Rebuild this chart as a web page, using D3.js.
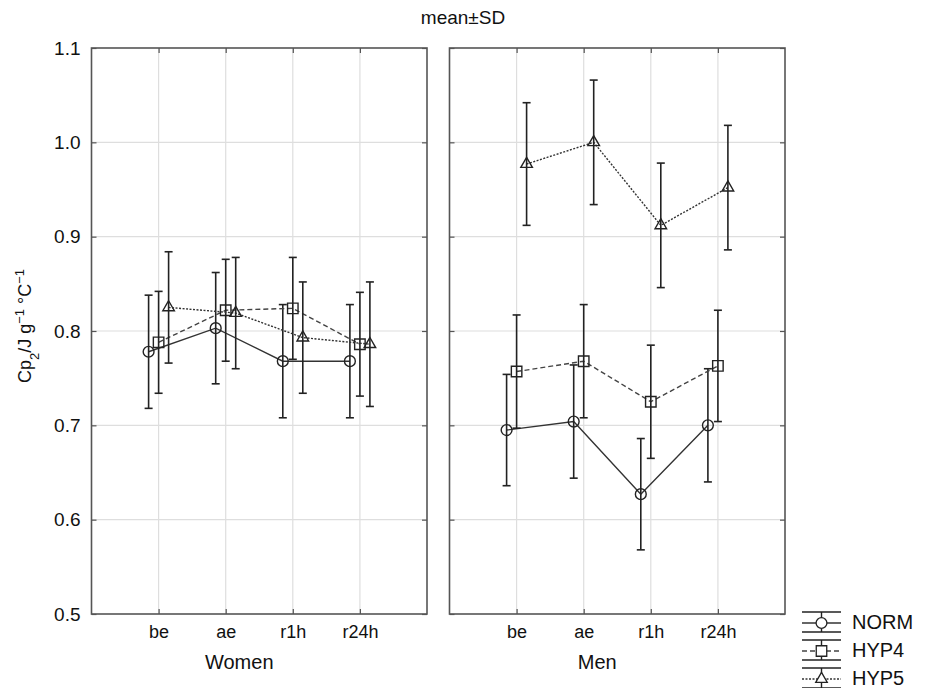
<!DOCTYPE html>
<html>
<head>
<meta charset="utf-8">
<script src="https://cdn.jsdelivr.net/npm/d3@7"></script>
<style>
  body { margin: 0; background: #fff; }
  svg { display: block; }
  .label { font-family: "Liberation Sans", Arial, sans-serif; fill: #111; }
</style>
</head>
<body>
<div id="chart"></div>
<script>
const categories = ['be', 'ae', 'r1h', 'r24h']
const groups = ['Women', 'Men']
const seriesNames = ['NORM', 'HYP4', 'HYP5']
const yTicks = [0.5, 0.6, 0.7, 0.8, 0.9, 1.0, 1.1]

// mean and SD per time point
const normWomenMean = [0.778, 0.803, 0.768, 0.768]
const normWomenSD = [0.060, 0.059, 0.060, 0.060]
const hyp4WomenMean = [0.788, 0.822, 0.824, 0.786]
const hyp4WomenSD = [0.054, 0.054, 0.054, 0.055]
const hyp5WomenMean = [0.825, 0.819, 0.793, 0.786]
const hyp5WomenSD = [0.059, 0.059, 0.059, 0.066]

const normMenMean = [0.695, 0.704, 0.627, 0.700]
const normMenSD = [0.059, 0.060, 0.059, 0.060]
const hyp4MenMean = [0.757, 0.768, 0.725, 0.763]
const hyp4MenSD = [0.060, 0.060, 0.060, 0.059]
const hyp5MenMean = [0.977, 1.000, 0.912, 0.952]
const hyp5MenSD = [0.065, 0.066, 0.066, 0.066]

const tables = {
  Women: [[normWomenMean, normWomenSD], [hyp4WomenMean, hyp4WomenSD], [hyp5WomenMean, hyp5WomenSD]],
  Men: [[normMenMean, normMenSD], [hyp4MenMean, hyp4MenSD], [hyp5MenMean, hyp5MenSD]]
}

const width = 930
const height = 688
const plotTop = 48
const plotBottom = 614
const panelWidth = 335.5
const panelLefts = [91.5, 449.5]

const styles = {
  NORM: { dash: null, stroke: '#333', symbol: d3.symbolCircle, size: 92, offset: -10 },
  HYP4: { dash: '5,3', stroke: '#444', symbol: d3.symbolSquare, size: 110, offset: 0 },
  HYP5: { dash: '2,1.5', stroke: '#333', symbol: d3.symbolTriangle, size: 58, offset: 10 }
}

const svg = d3.select('#chart').append('svg')
  .attr('width', width)
  .attr('height', height)

const y = d3.scaleLinear().domain([0.5, 1.1]).range([plotBottom, plotTop])

svg.append('text')
  .attr('class', 'label')
  .attr('x', 463).attr('y', 24)
  .attr('text-anchor', 'middle')
  .style('font-size', '19px')
  .text('mean±SD')

// y axis title
const yTitle = svg.append('text')
  .attr('class', 'label')
  .attr('transform', 'translate(31,326) rotate(-90)')
  .attr('text-anchor', 'middle')
  .style('font-size', '18px')
yTitle.append('tspan').text('Cp')
yTitle.append('tspan').attr('baseline-shift', 'sub').style('font-size', '13px').text('2')
yTitle.append('tspan').text('/J g')
yTitle.append('tspan').attr('baseline-shift', 'super').style('font-size', '13px').text('−1')
yTitle.append('tspan').text(' °C')
yTitle.append('tspan').attr('baseline-shift', 'super').style('font-size', '13px').text('−1')

groups.forEach((group, gi) => {
  const left = panelLefts[gi]
  const right = left + panelWidth
  const x = d3.scalePoint().domain(categories).range([left, right]).padding(1)
  const frame = svg.append('g')

  // grid
  frame.append('g').selectAll('line')
    .data(yTicks.slice(1, -1))
    .join('line')
    .attr('x1', left).attr('x2', right)
    .attr('y1', d => y(d)).attr('y2', d => y(d))
    .attr('stroke', '#dedede').attr('stroke-width', 1.2)
  frame.append('g').selectAll('line')
    .data(categories)
    .join('line')
    .attr('x1', d => x(d)).attr('x2', d => x(d))
    .attr('y1', plotTop).attr('y2', plotBottom)
    .attr('stroke', '#dedede').attr('stroke-width', 1.2)

  // series
  tables[group].forEach(([means, sds], si) => {
    const name = seriesNames[si]
    const st = styles[name]
    const pts = categories.map((c, i) => ({ x: x(c) + st.offset, m: means[i], sd: sds[i] }))
    const g = frame.append('g')

    g.append('path')
      .datum(pts)
      .attr('fill', 'none')
      .attr('stroke', st.stroke)
      .attr('stroke-width', 1.4)
      .attr('stroke-dasharray', st.dash)
      .attr('d', d3.line().x(d => d.x).y(d => y(d.m)))

    g.append('g').selectAll('line')
      .data(pts)
      .join('line')
      .attr('x1', d => d.x).attr('x2', d => d.x)
      .attr('y1', d => y(d.m - d.sd)).attr('y2', d => y(d.m + d.sd))
      .attr('stroke', '#222').attr('stroke-width', 1.6)

    g.append('g').selectAll('line')
      .data(pts.flatMap(d => [d.m - d.sd, d.m + d.sd].map(v => ({ x: d.x, v }))))
      .join('line')
      .attr('x1', d => d.x - 4).attr('x2', d => d.x + 4)
      .attr('y1', d => y(d.v)).attr('y2', d => y(d.v))
      .attr('stroke', '#222').attr('stroke-width', 1.6)

    g.append('g').selectAll('path')
      .data(pts)
      .join('path')
      .attr('transform', d => `translate(${d.x},${y(d.m)})`)
      .attr('d', d3.symbol().type(st.symbol).size(st.size))
      .attr('fill', 'none')
      .attr('stroke', '#222')
      .attr('stroke-width', 1.4)
  })

  // frame + inward ticks
  const axLeft = frame.append('g').attr('transform', `translate(${left},0)`)
    .call(d3.axisLeft(y).tickValues(yTicks).tickSizeInner(-5).tickSizeOuter(0).tickPadding(11)
      .tickFormat(gi === 0 ? d3.format('.1f') : () => ''))
  const axRight = frame.append('g').attr('transform', `translate(${right},0)`)
    .call(d3.axisRight(y).tickValues(yTicks).tickSizeInner(-5).tickSizeOuter(0).tickFormat(() => ''))
  const axTop = frame.append('g').attr('transform', `translate(0,${plotTop})`)
    .call(d3.axisTop(x).tickSizeInner(-5).tickSizeOuter(0).tickFormat(() => ''))
  const axBottom = frame.append('g').attr('transform', `translate(0,${plotBottom})`)
    .call(d3.axisBottom(x).tickSizeInner(-5).tickSizeOuter(0).tickPadding(11))

  ;[axLeft, axRight, axTop, axBottom].forEach(a => {
    a.select('.domain').remove()
    a.selectAll('.tick line').attr('stroke', '#555').attr('stroke-width', 1.2)
  })
  axLeft.selectAll('text').attr('class', 'label').style('font-size', '19px').attr('fill', '#111')
  axBottom.selectAll('text').attr('class', 'label').style('font-size', '18px').attr('fill', '#111')

  frame.append('rect')
    .attr('x', left).attr('y', plotTop)
    .attr('width', panelWidth).attr('height', plotBottom - plotTop)
    .attr('fill', 'none')
    .attr('stroke', '#555')
    .attr('stroke-width', 1.6)

  svg.append('text')
    .attr('class', 'label')
    .attr('x', (left + right) / 2 - 20).attr('y', 669)
    .attr('text-anchor', 'middle')
    .style('font-size', '20px')
    .text(group)
})

// legend
const legend = svg.append('g')
seriesNames.forEach((name, i) => {
  const st = styles[name]
  const cy = 623 + i * 28
  const row = legend.append('g')
  row.selectAll('line.cap')
    .data([cy - 11, cy + 9])
    .join('line')
    .attr('x1', 802).attr('x2', 841)
    .attr('y1', d => d).attr('y2', d => d)
    .attr('stroke', '#222').attr('stroke-width', 1.4)
  row.append('line')
    .attr('x1', 821.5).attr('x2', 821.5)
    .attr('y1', cy - 11).attr('y2', cy + 9)
    .attr('stroke', '#222').attr('stroke-width', 1.4)
  row.append('line')
    .attr('x1', 802).attr('x2', 841)
    .attr('y1', cy).attr('y2', cy)
    .attr('stroke', st.stroke).attr('stroke-width', 1.3)
    .attr('stroke-dasharray', st.dash)
  row.append('path')
    .attr('transform', `translate(821.5,${cy})`)
    .attr('d', d3.symbol().type(st.symbol).size(st.size))
    .attr('fill', '#fff')
    .attr('stroke', '#222')
    .attr('stroke-width', 1.3)
  row.append('text')
    .attr('class', 'label')
    .attr('x', 852).attr('y', cy - 1)
    .attr('dy', '0.35em')
    .style('font-size', '20px')
    .text(name)
})
</script>
</body>
</html>
